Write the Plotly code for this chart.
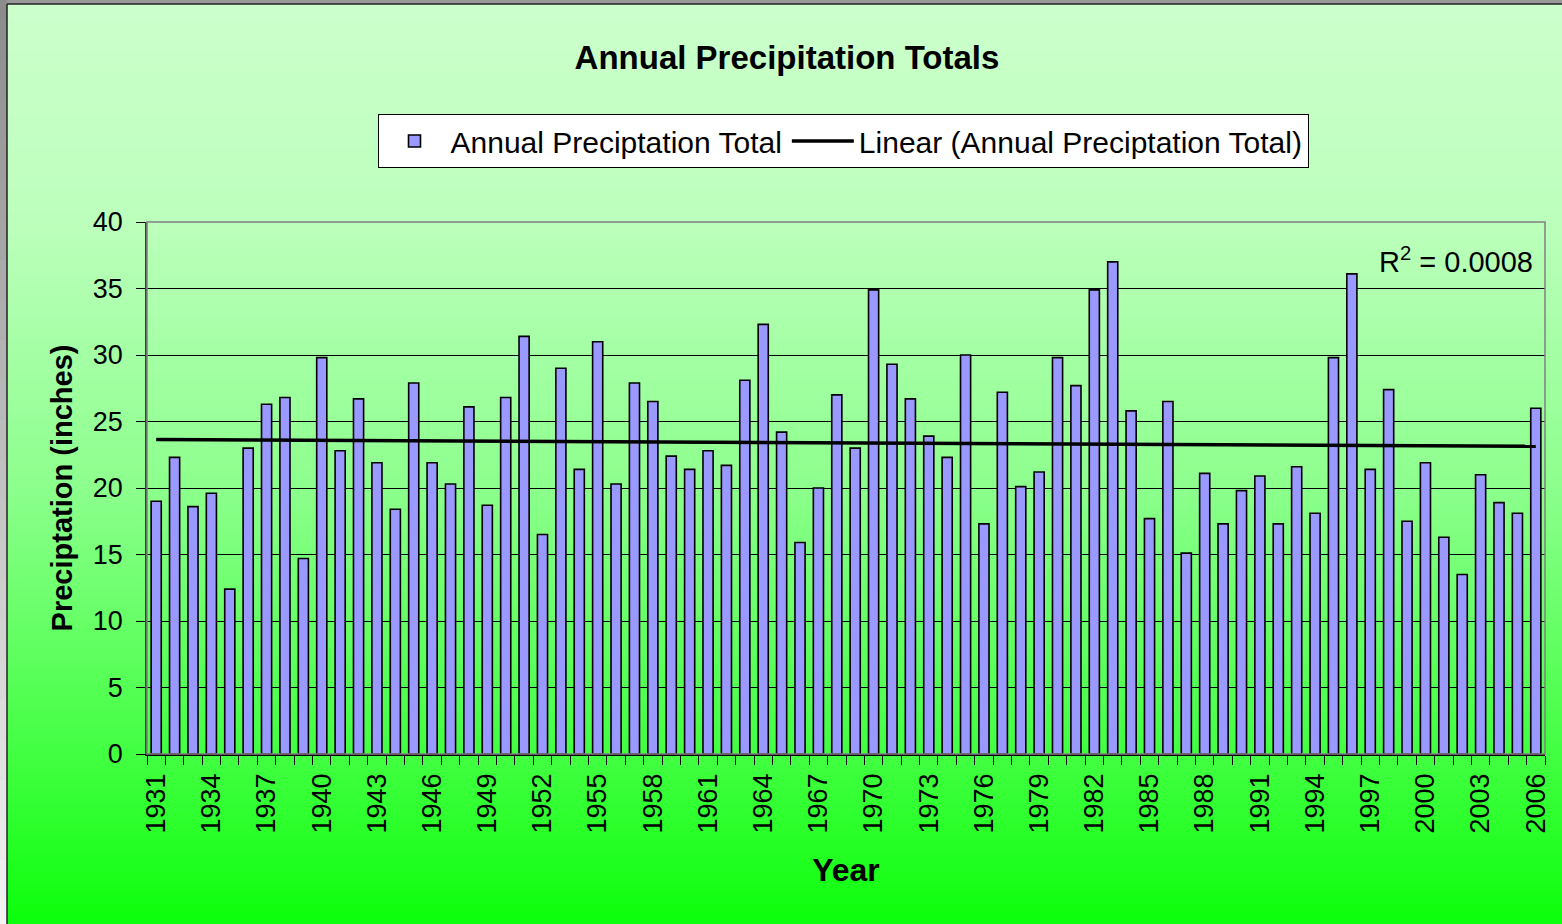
import numpy as np
import plotly.graph_objects as go

###### DATA ######
years = list(range(1931, 2007))
precip = [
    19.0, 22.3, 18.6, 19.6, 12.4, 23.0, 26.3, 26.8, 14.7, 29.8,   # 1931-1940
    22.8, 26.7, 21.9, 18.4, 27.9, 21.9, 20.3, 26.1, 18.7, 26.8,   # 1941-1950
    31.4, 16.5, 29.0, 21.4, 31.0, 20.3, 27.9, 26.5, 22.4, 21.4,   # 1951-1960
    22.8, 21.7, 28.1, 32.3, 24.2, 15.9, 20.0, 27.0, 23.0, 34.9,   # 1961-1970
    29.3, 26.7, 23.9, 22.3, 30.0, 17.3, 27.2, 20.1, 21.2, 29.8,   # 1971-1980
    27.7, 34.9, 37.0, 25.8, 17.7, 26.5, 15.1, 21.1, 17.3, 19.8,   # 1981-1990
    20.9, 17.3, 21.6, 18.1, 29.8, 36.1, 21.4, 27.4, 17.5, 21.9,   # 1991-2000
    16.3, 13.5, 21.0, 18.9, 18.1, 26.0,                           # 2001-2006
]
year_ticks = list(range(1931, 2007, 3))
y_ticks = list(range(0, 41, 5))
r2_label = 'R<sup>2</sup> = 0.0008'

# linear trendline, like Excel's
slope, intercept = np.polyfit(years, precip, 1)
trend = [slope * y + intercept for y in years]

###### LAYOUT ######
W, H = 1562, 924
ML, MR, MT, MB = 147, 17, 222, 170
FONT = 'Liberation Sans, Arial, sans-serif'


def px_x(px):
    return (px - ML) / (W - ML - MR)


def px_y(py):
    return (H - MB - py) / (H - MT - MB)


def interp(stops, v):
    pos = [s[0] for s in stops]
    val = [s[1] for s in stops]
    return float(np.interp(v, pos, val))


# green gradient behind everything (Excel chart area fill)
green_stops = [(4, 204), (222, 188), (490, 140), (754, 66), (924, 12)]
shapes = []
band = 6
for top in range(4, H, band):
    g = int(round(interp(green_stops, top + band / 2)))
    shapes.append(dict(
        type='rect', xref='paper', yref='paper', layer='below',
        x0=px_x(7), x1=px_x(W + 2), y0=px_y(top + band + 1), y1=px_y(top),
        fillcolor=f'rgb({g},255,{g})', line=dict(width=0),
    ))
# grey strip on the left edge of the frame
for top in range(0, H, 20):
    c = int(round(interp([(0, 140), (924, 245)], top)))
    shapes.append(dict(
        type='rect', xref='paper', yref='paper', layer='below',
        x0=px_x(-2), x1=px_x(7), y0=px_y(top + 21), y1=px_y(top),
        fillcolor=f'rgb({c},{c},{c})', line=dict(width=0),
    ))
# frame edges
shapes.append(dict(type='line', xref='paper', yref='paper', layer='below',
                   x0=px_x(7), x1=px_x(7), y0=px_y(4), y1=px_y(H + 2),
                   line=dict(color='#222222', width=1.5)))
shapes.append(dict(type='line', xref='paper', yref='paper', layer='below',
                   x0=px_x(7), x1=px_x(W + 2), y0=px_y(4), y1=px_y(4),
                   line=dict(color='#222222', width=1.5)))
# plot area border
shapes.append(dict(type='rect', xref='paper', yref='paper', layer='above',
                   x0=0, x1=1, y0=0, y1=1, line=dict(color='#808080', width=1.5)))

fig = go.Figure()
fig.add_trace(go.Bar(
    x=years, y=precip, width=0.55,
    name='Annual Preciptation Total',
    marker=dict(color='#9999FF', line=dict(color='black', width=1.6)),
))
fig.add_trace(go.Scatter(
    x=years, y=trend, mode='lines',
    name='Linear (Annual Preciptation Total)',
    line=dict(color='black', width=3.5),
))

fig.update_layout(
    width=W, height=H,
    margin=dict(l=ML, r=MR, t=MT, b=MB),
    paper_bgcolor='#9a9a9a',
    plot_bgcolor='rgba(0,0,0,0)',
    font=dict(family=FONT, size=27, color='black'),
    title=dict(text='<b>Annual Precipitation Totals</b>', x=787 / W, xanchor='center',
               y=1 - 57 / H, yanchor='middle', font=dict(size=33)),
    showlegend=True,
    legend=dict(orientation='h', x=px_x(843), xanchor='center', y=px_y(114), yanchor='top',
                bgcolor='white', bordercolor='black', borderwidth=1,
                font=dict(size=30), itemwidth=62, traceorder='normal'),
    shapes=shapes,
)
fig.update_xaxes(
    range=[1930.5, 2006.5], tickvals=year_ticks, ticktext=[str(y) for y in year_ticks],
    tickangle=-90, ticks='', showgrid=False, zeroline=False, ticklabelstandoff=7,
    showline=True, linecolor='black', linewidth=1.5,
    minor=dict(ticks='outside', tick0=1930.5, dtick=1, ticklen=9,
               tickcolor='black', tickwidth=1, showgrid=False),
    title=dict(text='<b>Year</b>', standoff=26),
)
fig.update_yaxes(
    range=[0, 40], tickvals=y_ticks, ticks='outside', ticklen=9, tickcolor='black',
    ticklabelstandoff=8,
    showgrid=True, gridcolor='black', gridwidth=1, zeroline=False,
    showline=True, linecolor='#404040', linewidth=1.5,
    title=dict(text='<b>Preciptation (inches)</b>', standoff=12, font=dict(size=29)),
)
fig.add_annotation(
    text=r2_label, xref='paper', yref='paper', x=px_x(1535), y=px_y(260),
    xanchor='right', yanchor='middle', showarrow=False, font=dict(size=29),
)

fig.write_html('out.html', config={'displayModeBar': False},
               post_script="document.body.style.margin='0';")
